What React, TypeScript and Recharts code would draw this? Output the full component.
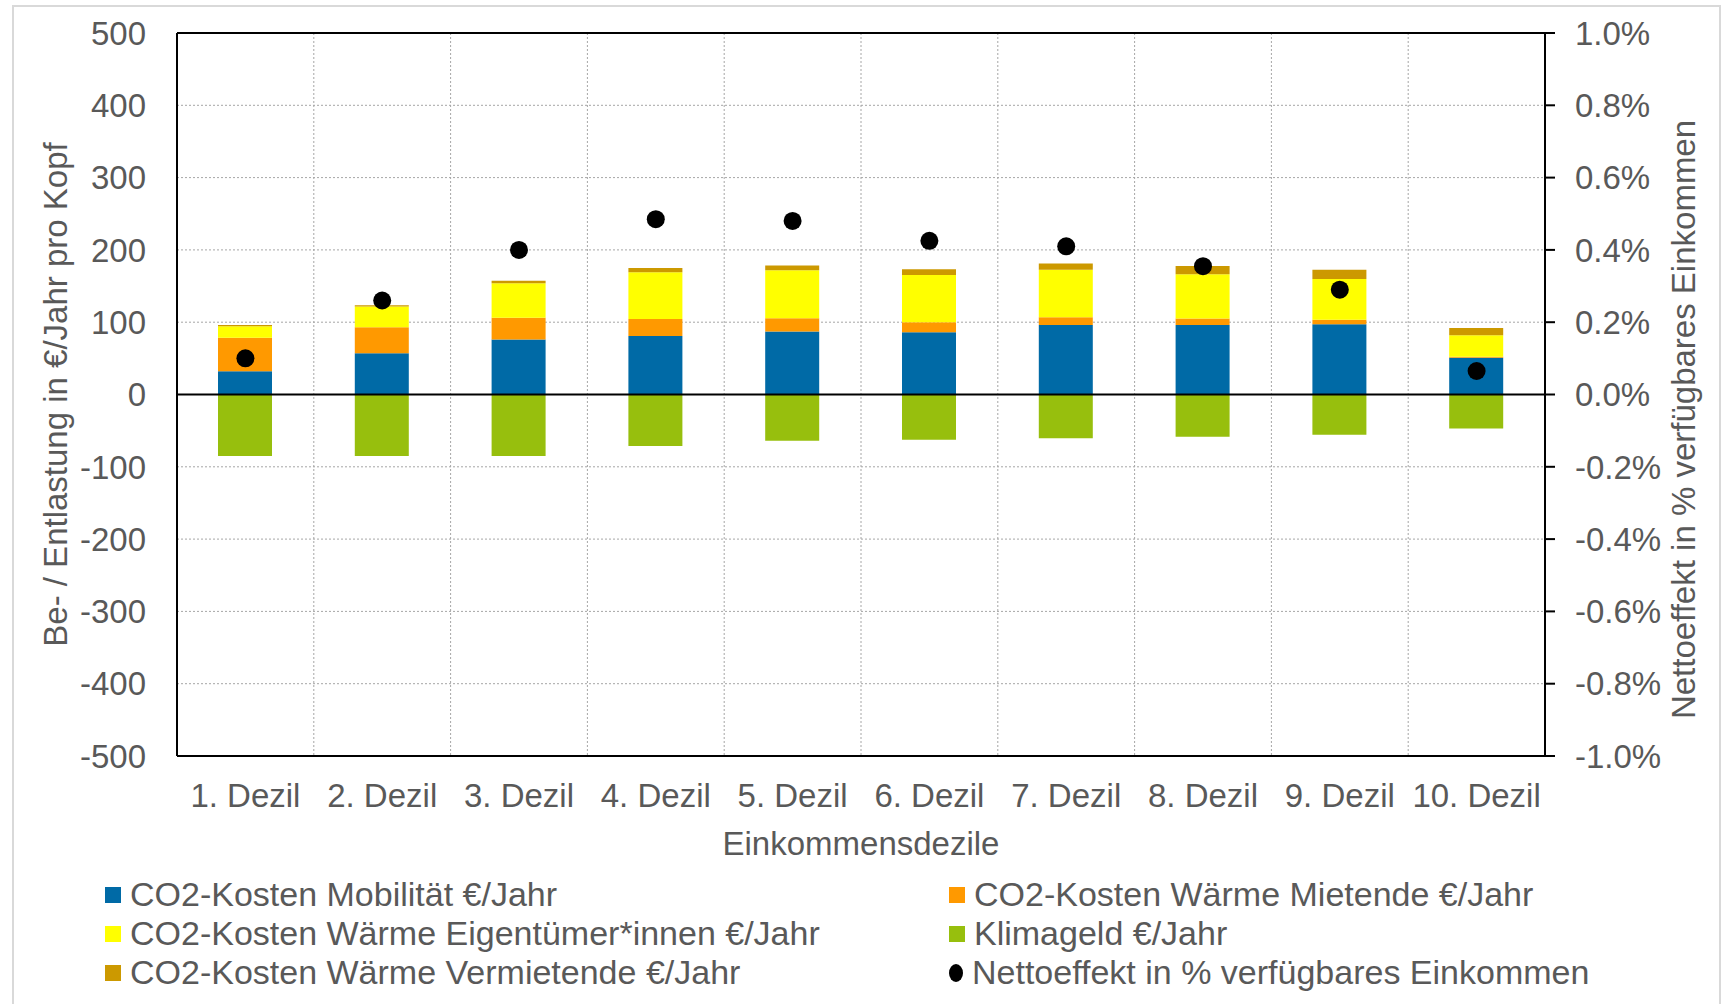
import React from "react";
import {
  ComposedChart,
  Bar,
  Line,
  XAxis,
  YAxis,
  CartesianGrid,
  ReferenceLine,
} from "recharts";

const deciles = [
  "1. Dezil",
  "2. Dezil",
  "3. Dezil",
  "4. Dezil",
  "5. Dezil",
  "6. Dezil",
  "7. Dezil",
  "8. Dezil",
  "9. Dezil",
  "10. Dezil",
];

// €/Jahr pro Kopf
const mobilitaet = [32, 57, 76, 81, 87, 86, 96, 96, 97, 51];
const mietende = [46.5, 36, 30, 23.5, 18.5, 14, 11, 9, 6.5, 1.3];
const eigentuemer = [16, 28.6, 48, 64.6, 66.4, 65.4, 65.5, 61.3, 56.2, 29.5];
const klimageld = [-85, -85, -85, -71.4, -64, -62.5, -60.6, -58.5, -55.5, -47];
const vermietende = [1.6, 1.8, 3.2, 6, 6.4, 7.9, 8.7, 11.5, 12.9, 10.2];
// % verfügbares Einkommen
const nettoeffekt = [0.1, 0.26, 0.4, 0.485, 0.48, 0.425, 0.41, 0.355, 0.29, 0.065];

const leftTicks = [-500, -400, -300, -200, -100, 0, 100, 200, 300, 400, 500];
const rightTicks = [-1, -0.8, -0.6, -0.4, -0.2, 0, 0.2, 0.4, 0.6, 0.8, 1];

const data = deciles.map((d, i) => ({
  name: d,
  mob: mobilitaet[i],
  miet: mietende[i],
  eig: eigentuemer[i],
  klima: klimageld[i],
  verm: vermietende[i],
  netto: nettoeffekt[i],
}));

const COLORS = {
  mob: "#006AA6",
  miet: "#FF9900",
  eig: "#FFFF00",
  klima: "#97BF0D",
  verm: "#CC9900",
};

const legendRows = [
  [
    { label: "CO2-Kosten Mobilität €/Jahr", color: COLORS.mob },
    { label: "CO2-Kosten Wärme Mietende €/Jahr", color: COLORS.miet },
  ],
  [
    { label: "CO2-Kosten Wärme Eigentümer*innen €/Jahr", color: COLORS.eig },
    { label: "Klimageld €/Jahr", color: COLORS.klima },
  ],
  [
    { label: "CO2-Kosten Wärme Vermietende €/Jahr", color: COLORS.verm },
    { label: "Nettoeffekt in % verfügbares Einkommen", color: "#000", dot: true },
  ],
];

const FONT = '"Liberation Sans", Arial, sans-serif';
const TEXT = "#595959";

// vertical grid lines sit between the categories (Excel style)
function categoryBoundaries({ offset }: { offset: { left: number; width: number } }) {
  const n = deciles.length;
  return Array.from({ length: n + 1 }, (_, k) => offset.left + (offset.width * k) / n);
}

function LegendItem({ label, color, dot }: { label: string; color: string; dot?: boolean }) {
  return (
    <div style={{ display: "flex", alignItems: "center", height: 39 }}>
      <span
        style={{
          display: "inline-block",
          width: dot ? 14 : 16,
          height: dot ? 18 : 16,
          borderRadius: dot ? "50%" : 0,
          background: color,
          marginRight: 9,
        }}
      />
      <span>{label}</span>
    </div>
  );
}

export default function App() {
  return (
    <div
      style={{
        position: "absolute",
        left: 0,
        top: 0,
        width: 1725,
        height: 1004,
        background: "#fff",
        overflow: "hidden",
        fontFamily: FONT,
      }}
    >
      <div
        style={{
          position: "absolute",
          left: 12,
          top: 5,
          width: 1709,
          height: 1010,
          border: "2px solid #d9d9d9",
          boxSizing: "border-box",
        }}
      />
      <div style={{ position: "absolute", left: 0, top: 0 }}>
        <ComposedChart
          width={1725}
          height={1004}
          data={data}
          stackOffset="sign"
          margin={{ top: 33, right: 0, bottom: 138, left: 0 }}
        >
          <CartesianGrid
            yAxisId="left"
            stroke="#a6a6a6"
            strokeDasharray="2 2"
            verticalCoordinatesGenerator={categoryBoundaries as any}
          />
          <XAxis
            dataKey="name"
            height={110}
            tickSize={0}
            tickMargin={28}
            axisLine={{ stroke: "#000", strokeWidth: 2 }}
            tick={{ fill: TEXT, fontSize: 33, fontFamily: FONT }}
            interval={0}
            label={{
              value: "Einkommensdezile",
              position: "insideBottom",
              offset: 11,
              fill: TEXT,
              fontSize: 33,
              fontFamily: FONT,
            }}
          />
          <YAxis
            yAxisId="left"
            width={177}
            domain={[-500, 500]}
            ticks={leftTicks}
            tickSize={0}
            tickMargin={31}
            axisLine={{ stroke: "#000", strokeWidth: 2 }}
            tick={{ fill: TEXT, fontSize: 33, fontFamily: FONT }}
            label={{
              value: "Be- / Entlastung in €/Jahr pro Kopf",
              angle: -90,
              position: "insideLeft",
              offset: 55,
              fill: TEXT,
              fontSize: 33,
              fontFamily: FONT,
              style: { textAnchor: "middle" },
            }}
          />
          <YAxis
            yAxisId="right"
            orientation="right"
            width={180}
            domain={[-1, 1]}
            ticks={rightTicks}
            tickSize={10}
            tickMargin={20}
            tickFormatter={(v) => `${Number(v).toFixed(1)}%`}
            axisLine={{ stroke: "#000", strokeWidth: 2 }}
            tickLine={{ stroke: "#000", strokeWidth: 2 }}
            tick={{ fill: TEXT, fontSize: 33, fontFamily: FONT }}
            label={{
              value: "Nettoeffekt in % verfügbares Einkommen",
              angle: -90,
              position: "insideRight",
              offset: 42,
              dy: 25,
              fill: TEXT,
              fontSize: 33,
              fontFamily: FONT,
              style: { textAnchor: "middle" },
            }}
          />
          <ReferenceLine yAxisId="left" y={500} stroke="#000" strokeWidth={2} />
          <Bar yAxisId="left" dataKey="mob" stackId="a" fill={COLORS.mob} barSize={54} isAnimationActive={false} />
          <Bar yAxisId="left" dataKey="miet" stackId="a" fill={COLORS.miet} barSize={54} isAnimationActive={false} />
          <Bar yAxisId="left" dataKey="eig" stackId="a" fill={COLORS.eig} barSize={54} isAnimationActive={false} />
          <Bar yAxisId="left" dataKey="klima" stackId="a" fill={COLORS.klima} barSize={54} isAnimationActive={false} />
          <Bar yAxisId="left" dataKey="verm" stackId="a" fill={COLORS.verm} barSize={54} isAnimationActive={false} />
          <ReferenceLine yAxisId="left" y={0} stroke="#000" strokeWidth={2} />
          <Line
            yAxisId="right"
            dataKey="netto"
            stroke="none"
            dot={{ r: 9, fill: "#000", stroke: "none" }}
            activeDot={false}
            isAnimationActive={false}
          />
        </ComposedChart>
      </div>
      <div
        style={{
          position: "absolute",
          left: 105,
          top: 875,
          display: "grid",
          gridTemplateColumns: "844px auto",
          fontSize: 34,
          color: TEXT,
          lineHeight: "39px",
        }}
      >
        {legendRows.flat().map((item) => (
          <LegendItem key={item.label} {...item} />
        ))}
      </div>
    </div>
  );
}
